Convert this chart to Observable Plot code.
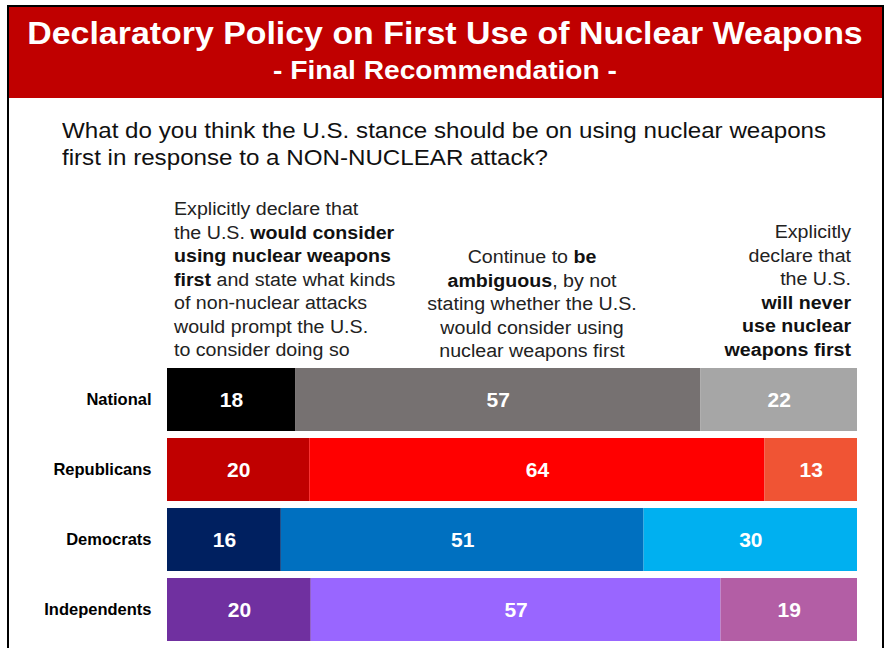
<!DOCTYPE html>
<html><head><meta charset="utf-8">
<script src="https://cdn.jsdelivr.net/npm/d3@7"></script>
<script src="https://cdn.jsdelivr.net/npm/@observablehq/plot@0.6"></script>
<style>
body{margin:0;background:#fff;font-family:"Liberation Sans",Arial,sans-serif;}
#wrap{position:relative;width:890px;height:648px;overflow:hidden;background:#fff;}
#frame{position:absolute;left:7px;top:5px;width:877px;height:700px;border:2px solid #000;box-sizing:border-box;}
#band{position:absolute;left:9px;top:7px;width:873px;height:91px;background:#c00000;}
.t{position:absolute;white-space:nowrap;}
#title{left:0;width:890px;text-align:center;top:14px;font-size:31px;line-height:40px;font-weight:bold;color:#fff;transform:scaleX(1.093);transform-origin:445px 0;}
#sub{left:0;width:890px;text-align:center;top:54px;font-size:25px;line-height:32px;font-weight:bold;color:#fff;transform:scaleX(1.125);transform-origin:445px 0;}
#q{left:62px;top:117px;font-size:22px;line-height:27px;color:#111;transform:scaleX(1.098);transform-origin:0 0;}
.h{font-size:18px;line-height:23.5px;color:#222;}
.h b{color:#111;}
#h1{left:174px;top:198px;transform:scaleX(1.09);transform-origin:0 0;}
#h2{left:432px;width:200px;text-align:center;top:246px;transform:scaleX(1.09);transform-origin:100px 0;}
#h3{right:39px;text-align:right;top:221px;transform:scaleX(1.09);transform-origin:100% 0;}
#chart{position:absolute;left:0;top:360px;}
#chart svg [aria-label="y-axis tick label"] text{font-weight:bold;}
</style>
</head><body>
<div id="wrap">
  <div id="frame"></div>
  <div id="band"></div>
  <div class="t" id="title">Declaratory Policy on First Use of Nuclear Weapons</div>
  <div class="t" id="sub">- Final Recommendation -</div>
  <div class="t" id="q">What do you think the U.S. stance should be on using nuclear weapons<br>first in response to a NON-NUCLEAR attack?</div>
  <div class="t h" id="h1">Explicitly declare that<br>the U.S. <b>would consider</b><br><b>using nuclear weapons</b><br><b>first</b> and state what kinds<br>of non-nuclear attacks<br>would prompt the U.S.<br>to consider doing so</div>
  <div class="t h" id="h2">Continue to <b>be</b><br><b>ambiguous</b>, by not<br>stating whether the U.S.<br>would consider using<br>nuclear weapons first</div>
  <div class="t h" id="h3">Explicitly<br>declare that<br>the U.S.<br><b>will never</b><br><b>use nuclear</b><br><b>weapons first</b></div>
  <div id="chart"></div>
</div>
<script>
const groups = ["National", "Republicans", "Democrats", "Independents"];
const responses = ["Would consider first use", "Be ambiguous", "Will never use first"];
const considerFirst = [18, 20, 16, 20];
const ambiguous = [57, 64, 51, 57];
const neverFirst = [22, 13, 30, 19];
const palette = [
  ["#000000", "#767171", "#a6a6a6"],
  ["#c00000", "#ff0000", "#f05434"],
  ["#002060", "#0070c0", "#00b0f0"],
  ["#7030a0", "#9966ff", "#b35ea5"]
];

const series = [considerFirst, ambiguous, neverFirst];
const rows = [];
groups.forEach((g, i) => {
  responses.forEach((r, j) => {
    rows.push({group: g, response: r, value: series[j][i], color: palette[i][j]});
  });
});

const chart = Plot.plot({
  width: 890,
  height: 288,
  marginLeft: 167,
  marginRight: 33,
  marginTop: 8,
  marginBottom: 7,
  style: {fontFamily: "'Liberation Sans', Arial, sans-serif", fontSize: "16px", color: "#000", background: "transparent"},
  x: {axis: null},
  y: {domain: groups, paddingInner: 0.1, paddingOuter: 0, axis: null},
  color: {type: "identity"},
  marks: [
    Plot.barX(rows, Plot.stackX({x: "value", y: "group", fill: "color", offset: "normalize", inset: 0})),
    Plot.text(rows, Plot.stackX({x: "value", y: "group", offset: "normalize", text: d => String(d.value), fill: "white", fontSize: 21, fontWeight: "bold"})),
    Plot.axisY({tickSize: 0, tickPadding: 16, fontSize: 16.5, fontWeight: "bold", label: null})
  ]
});
document.getElementById("chart").appendChild(chart);
</script>
</body></html>
